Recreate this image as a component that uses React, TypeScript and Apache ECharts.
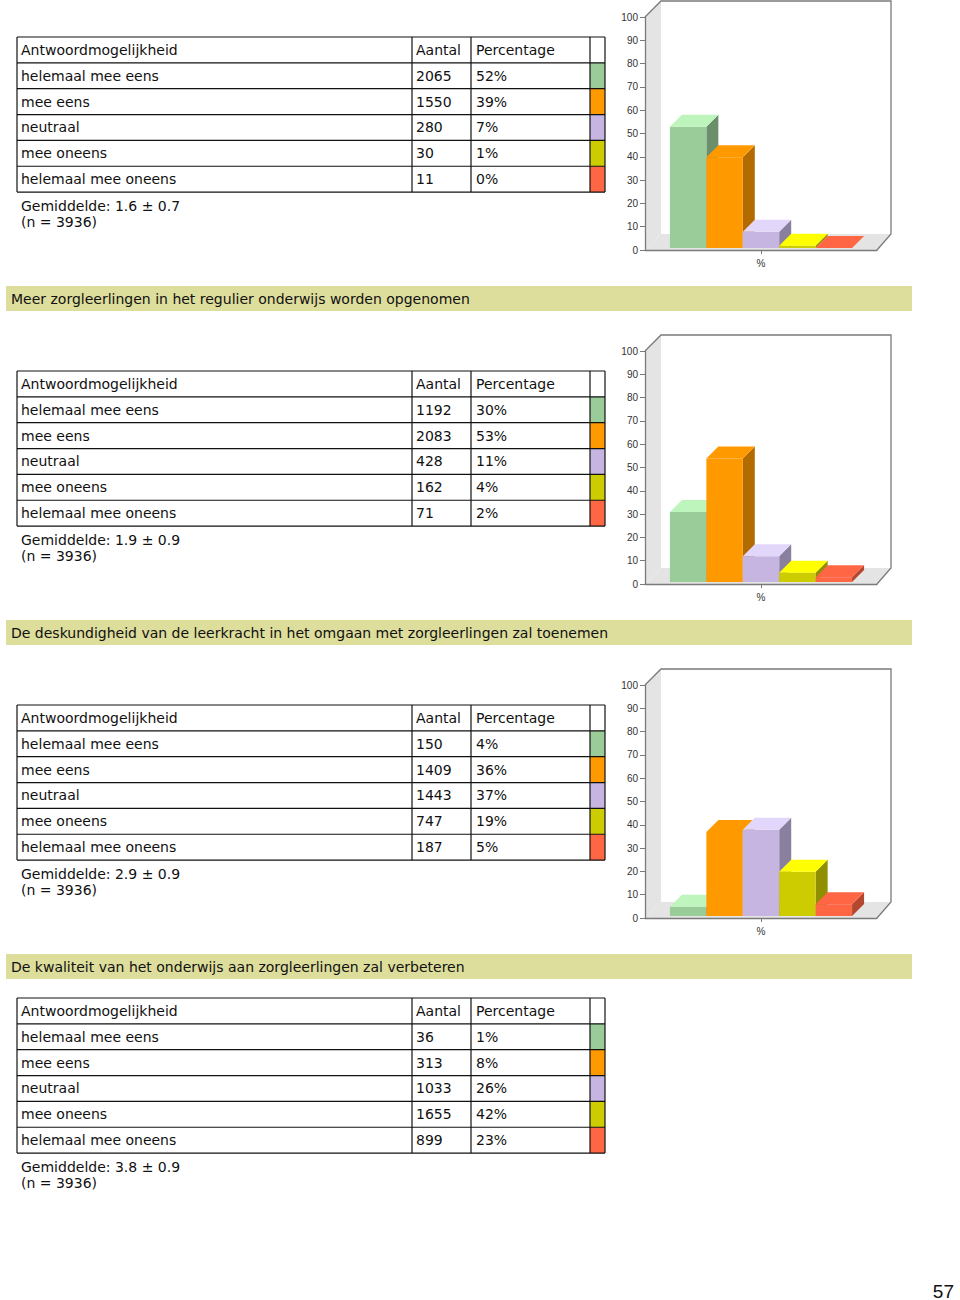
import React, { useEffect, useRef } from "react";
import * as echarts from "echarts";

const answers = ["helemaal mee eens", "mee eens", "neutraal", "mee oneens", "helemaal mee oneens"];
const headerCols = ["Antwoordmogelijkheid", "Aantal", "Percentage"];
const titles = [
  "Meer zorgleerlingen in het regulier onderwijs worden opgenomen",
  "De deskundigheid van de leerkracht in het omgaan met zorgleerlingen zal toenemen",
  "De kwaliteit van het onderwijs aan zorgleerlingen zal verbeteren",
];
const counts1 = [2065, 1550, 280, 30, 11];
const pcts1 = [52, 39, 7, 1, 0];
const counts2 = [1192, 2083, 428, 162, 71];
const pcts2 = [30, 53, 11, 4, 2];
const counts3 = [150, 1409, 1443, 747, 187];
const pcts3 = [4, 36, 37, 19, 5];
const counts4 = [36, 313, 1033, 1655, 899];
const pcts4 = [1, 8, 26, 42, 23];
const means = ["1.6 ± 0.7", "1.9 ± 0.9", "2.9 ± 0.9", "3.8 ± 0.9"];
const nTotal = 3936;
const xCategories = ["%"];
const pageNumber = "57";

const tables = [
  { counts: counts1, pcts: pcts1 },
  { counts: counts2, pcts: pcts2 },
  { counts: counts3, pcts: pcts3 },
  { counts: counts4, pcts: pcts4 },
];
const chartPcts = [pcts1, pcts2, pcts3];

const frontColors = ["#99cc99", "#ff9900", "#c5b5e0", "#cccc00", "#ff6644"];
const topColors = ["#bdf5bd", "#ff9900", "#e2d6fa", "#ffff00", "#ff6644"];
const sideColors = ["#6b8f6b", "#b36b00", "#8a809e", "#8f8f00", "#b34730"];

// layout
const CHART_TOPS = [17, 351, 685];
const GRID_L = 645, GRID_W = 232, GRID_H = 233, WALL_D = 16, BAR_D = 12;
const TABLE_TOPS = [37, 371, 705, 998];
const BAR_TOPS = [286, 620, 954];
const COLS = [17, 412, 471, 590, 605];
const ROW_H = 25.85;
const FONT = '"DejaVu Sans", "Noto Sans", sans-serif';

function tableGraphics(t: number, counts: number[], pcts: number[], mean: string) {
  const els: any[] = [];
  const bottom = t + ROW_H * 6;
  for (let r = 0; r < 5; r++) {
    els.push({
      type: "rect", z: 1,
      shape: { x: COLS[3], y: t + ROW_H * (r + 1), width: COLS[4] - COLS[3], height: ROW_H },
      style: { fill: frontColors[r] },
    });
  }
  for (let r = 0; r <= 6; r++) {
    els.push({
      type: "line", z: 2,
      shape: { x1: COLS[0], y1: t + ROW_H * r, x2: COLS[4], y2: t + ROW_H * r },
      style: { stroke: "#111", lineWidth: 1.2 },
    });
  }
  COLS.forEach((c) => {
    els.push({
      type: "line", z: 2,
      shape: { x1: c, y1: t, x2: c, y2: bottom },
      style: { stroke: "#111", lineWidth: 1.2 },
    });
  });
  const rows = [headerCols, ...answers.map((a, i) => [a, String(counts[i]), pcts[i] + "%"])];
  const tx = [21, 416, 476];
  rows.forEach((row, r) => {
    row.forEach((txt, c) => {
      els.push({
        type: "text", z: 3, x: tx[c], y: t + ROW_H * (r + 0.5),
        style: { text: txt, fontSize: 14, fontFamily: FONT, fill: "#111", verticalAlign: "middle", align: "left" },
      });
    });
  });
  els.push({
    type: "text", z: 3, x: 21, y: bottom + 14,
    style: { text: "Gemiddelde: " + mean, fontSize: 14, fontFamily: FONT, fill: "#111", verticalAlign: "middle" },
  });
  els.push({
    type: "text", z: 3, x: 21, y: bottom + 30,
    style: { text: "(n = " + nTotal + ")", fontSize: 14, fontFamily: FONT, fill: "#111", verticalAlign: "middle" },
  });
  return els;
}

function wallGraphics(T: number) {
  const L = GRID_L, W = GRID_W, H = GRID_H, D = WALL_D;
  return [
    {
      type: "polygon", z: 0,
      shape: { points: [[L, T], [L + D, T - D], [L + D, T + H - D], [L, T + H]] },
      style: { fill: "#e4e4e4" },
    },
    {
      type: "polygon", z: 0,
      shape: { points: [[L, T + H], [L + D, T + H - D], [L + W + D - 2, T + H - D], [L + W, T + H]] },
      style: { fill: "#e4e4e4" },
    },
    {
      type: "polyline", z: 1,
      shape: { points: [[L, T], [L + D, T - D], [L + W + D - 2, T - D], [L + W + D - 2, T + H - D], [L + W, T + H]] },
      style: { stroke: "#7a7a7a", lineWidth: 1.3, fill: null },
    },
  ];
}

function App() {
  const ref = useRef<HTMLDivElement>(null);
  useEffect(() => {
    if (!ref.current) return;
    const chart = echarts.init(ref.current, undefined, { renderer: "svg" });

    const graphic: any[] = [];
    BAR_TOPS.forEach((y, i) => {
      graphic.push({
        type: "rect", z: 0,
        shape: { x: 6, y, width: 906, height: 25 },
        style: { fill: "#dddd9c" },
      });
      graphic.push({
        type: "text", z: 3, x: 11, y: y + 13,
        style: { text: titles[i], fontSize: 14, fontFamily: FONT, fill: "#111", verticalAlign: "middle" },
      });
    });
    tables.forEach((tb, i) => graphic.push(...tableGraphics(TABLE_TOPS[i], tb.counts, tb.pcts, means[i])));
    CHART_TOPS.forEach((T) => graphic.push(...wallGraphics(T)));
    graphic.push({
      type: "text", z: 3, x: 954, y: 1291,
      style: { text: pageNumber, fontSize: 19, fontFamily: '"Liberation Sans", Arial, sans-serif', fill: "#111", verticalAlign: "middle", align: "right" },
    });

    const axisStyle = { lineStyle: { color: "#7a7a7a", width: 1.3 } };
    const labelStyle = { color: "#333", fontSize: 10, fontFamily: '"Liberation Sans", Arial, sans-serif' };

    const option: any = {
      animation: false,
      backgroundColor: "#ffffff",
      graphic,
      grid: CHART_TOPS.map((T) => ({ left: GRID_L, top: T, width: GRID_W, height: GRID_H })),
      xAxis: CHART_TOPS.map((_, i) => ({
        type: "category", gridIndex: i, data: xCategories, z: 5,
        axisLine: axisStyle,
        axisTick: { show: true, alignWithLabel: true, length: 4, lineStyle: { color: "#7a7a7a" } },
        axisLabel: { ...labelStyle, margin: 8 },
      })),
      yAxis: CHART_TOPS.map((_, i) => ({
        type: "value", gridIndex: i, min: 0, max: 100, interval: 10, z: 5,
        axisLine: { show: true, ...axisStyle },
        axisTick: { show: true, length: 5, lineStyle: { color: "#7a7a7a" } },
        splitLine: { show: false },
        axisLabel: { ...labelStyle, margin: 7 },
      })),
      series: chartPcts.map((p, ci) => ({
        type: "custom", xAxisIndex: ci, yAxisIndex: ci, z: 3,
        data: p.map((v, i) => [0, v, i]),
        encode: { x: 0, y: 1 },
        renderItem: (params: any, api: any) => {
          const v = api.value(1);
          const i = api.value(2);
          const base = api.coord([0, 0]);
          const top = api.coord([0, v]);
          const band = api.size([1, 0])[0];
          const w = band * 0.157;
          const x = base[0] - 2.5 * w + i * w;
          const yb = base[1] - 2;
          const yt = top[1] - 2;
          const d = BAR_D;
          return {
            type: "group",
            children: [
              {
                type: "polygon",
                shape: { points: [[x + w, yt], [x + w + d, yt - d], [x + w + d, yb - d], [x + w, yb]] },
                style: { fill: sideColors[i] },
              },
              {
                type: "rect",
                shape: { x, y: yt, width: w, height: Math.max(0, yb - yt) },
                style: { fill: frontColors[i] },
              },
              {
                type: "polygon",
                shape: { points: [[x, yt], [x + d, yt - d], [x + w + d, yt - d], [x + w, yt]] },
                style: { fill: topColors[i] },
              },
            ],
          };
        },
      })),
    };
    chart.setOption(option);
    return () => chart.dispose();
  }, []);
  return (
    <div
      ref={ref}
      style={{ position: "absolute", left: 0, top: 0, width: 960, height: 1300, background: "#fff" }}
    />
  );
}

export default App;
